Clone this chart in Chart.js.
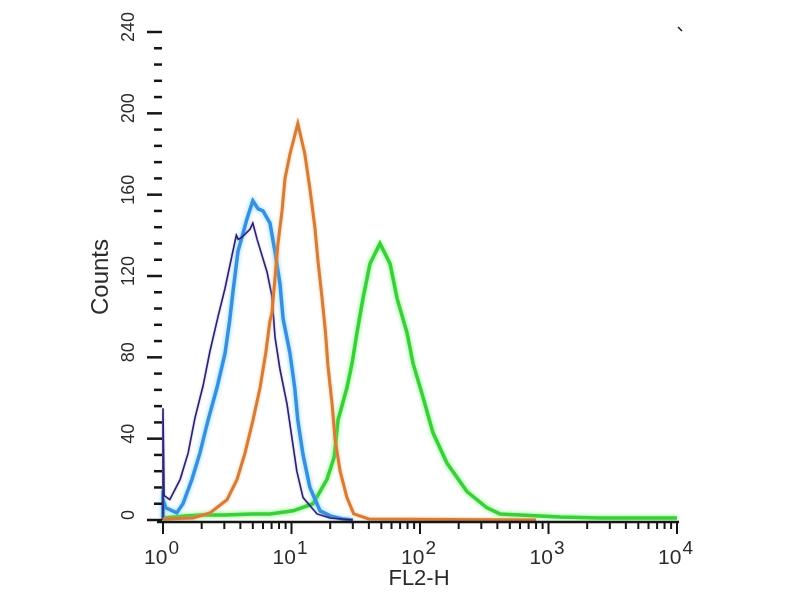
<!DOCTYPE html>
<html lang="en">
<head>
    <meta charset="UTF-8">
    <title>FL2-H histogram</title>
    <script src="https://cdn.jsdelivr.net/npm/chart.js"></script>
    <style>
        body {
            margin: 0;
            background-color: #ffffff;
        }
        #chartBox {
            width: 800px;
            height: 600px;
        }
    </style>
</head>
<body>
    <div id="chartBox">
        <canvas id="histChart" width="800" height="600"></canvas>
    </div>

    <script>
        // Values (x = FL2-H, y = Counts)
        const navyX = [1.0, 1.0, 1.02, 1.13, 1.36, 1.57, 1.77, 2.05, 2.32, 2.68, 3.04, 3.44, 3.72, 3.85, 4.1, 4.75, 5.0, 5.4, 6.45, 7.05, 7.44, 8.14, 9.23, 10.1, 11.0, 12.3, 15.8, 20, 30];
        const navyY = [0, 55, 12, 10, 20, 33, 50, 66, 83, 100, 114, 130, 140, 138, 139, 143, 146, 138, 122, 110, 90, 74, 57, 40, 24, 11, 3, 1, 0];

        const blueX = [1.0, 1.0, 1.05, 1.28, 1.43, 1.68, 1.94, 2.24, 2.63, 3.04, 3.3, 3.5, 3.83, 4.5, 5.0, 5.5, 6.0, 6.8, 7.44, 8.14, 8.6, 9.73, 10.6, 11.2, 12.3, 13.9, 16.7, 20, 25, 30];
        const blueY = [0, 10, 6, 3.5, 8, 20, 33, 49, 65, 82, 98, 112, 132, 148, 157, 153, 152, 146, 132, 116, 99, 82, 65, 49, 32, 16, 4.5, 2, 0.5, 0];

        const orangeX = [1.0, 1.71, 2.32, 3.15, 3.77, 4.35, 5.01, 5.69, 6.3, 6.8, 7.05, 7.44, 7.85, 8.44, 8.9, 9.73, 11.2, 12.7, 13.9, 15.2, 16.1, 17.3, 18.4, 19.2, 20.7, 21.8, 23.9, 27.0, 30.5, 40, 800];
        const orangeY = [0.5, 1, 3.5, 10, 20, 33, 49, 65, 82, 98, 102, 119, 136, 152, 168, 180, 195, 180, 163, 144, 127, 109, 92, 76, 57, 40, 24, 11, 3, 0.5, 0];

        const greenX = [1.0, 1.5, 2.0, 3.0, 5.0, 6.8, 10.3, 14.7, 18.9, 21.5, 23.0, 27.0, 29.6, 32.3, 36.0, 40.8, 48.8, 58.5, 66.3, 79.3, 88.3, 106, 126, 162, 232, 332, 419, 1230, 2500, 10000];
        const greenY = [1, 2, 2.5, 2.5, 3, 3, 4.5, 8, 20, 31, 49, 65, 77, 92, 109, 126, 136, 126, 109, 92, 77, 60, 43, 28, 14, 6, 3, 1.5, 1, 1];

        // tick labels
        const yTickValues = [0, 40, 80, 120, 160, 200, 240];
        const yTickLabels = ['0', '40', '80', '120', '160', '200', '240'];
        const xTickValues = [1, 10, 100, 1000, 10000];
        const xTickExps = ['0', '1', '2', '3', '4'];

        function toPoints(xs, ys) {
            return xs.map((x, i) => ({ x: x, y: ys[i] }));
        }

        // axes, ticks and labels drawn off the chart's own scales
        const axisPlugin = {
            id: 'cytoAxes',
            beforeDatasetDraw(chart, args) {
                const ds = chart.data.datasets[args.index];
                chart.ctx.save();
                chart.ctx.shadowColor = ds.glow;
                chart.ctx.shadowBlur = ds.glowBlur;
            },
            afterDatasetDraw(chart) {
                chart.ctx.restore();
            },
            afterDatasetsDraw(chart) {
                const ctx = chart.ctx;
                const xs = chart.scales.x;
                const ys = chart.scales.y;
                const left = xs.getPixelForValue(1);
                const right = xs.getPixelForValue(10000);
                const base = ys.getPixelForValue(0) + 2;

                ctx.save();
                ctx.strokeStyle = '#151515';
                ctx.fillStyle = '#2b2b2b';

                // x axis line
                ctx.lineWidth = 2.5;
                ctx.beginPath();
                ctx.moveTo(left - 6, base);
                ctx.lineTo(right + 2, base);
                ctx.stroke();

                // x ticks
                ctx.lineWidth = 2;
                for (let d = 0; d < 4; d++) {
                    for (let m = 1; m <= 9; m++) {
                        const px = xs.getPixelForValue(m * Math.pow(10, d));
                        ctx.beginPath();
                        ctx.moveTo(px, base);
                        ctx.lineTo(px, base + (m === 1 ? 12 : 7));
                        ctx.stroke();
                    }
                }
                ctx.beginPath();
                ctx.moveTo(right, base);
                ctx.lineTo(right, base + 12);
                ctx.stroke();

                // y ticks (no axis line, just the dashes)
                ctx.lineWidth = 2.5;
                for (let v = 0; v <= 240; v += 8) {
                    const py = ys.getPixelForValue(v);
                    ctx.beginPath();
                    ctx.moveTo(left - 1, py);
                    ctx.lineTo(left - (v % 40 === 0 ? 16 : 9), py);
                    ctx.stroke();
                }

                // x tick labels: 10 with raised exponent
                xTickValues.forEach((v, i) => {
                    const px = xs.getPixelForValue(v);
                    ctx.font = '21px "Liberation Sans", Arial, sans-serif';
                    const wBase = ctx.measureText('10').width;
                    ctx.font = '19px "Liberation Sans", Arial, sans-serif';
                    const wExp = ctx.measureText(xTickExps[i]).width;
                    const start = px - (wBase + wExp) / 2 - 2;
                    ctx.textAlign = 'left';
                    ctx.textBaseline = 'alphabetic';
                    ctx.font = '21px "Liberation Sans", Arial, sans-serif';
                    ctx.fillText('10', start, 564);
                    ctx.font = '19px "Liberation Sans", Arial, sans-serif';
                    ctx.fillText(xTickExps[i], start + wBase + 1, 554);
                });

                // y tick labels, rotated, sitting a little above their tick
                ctx.font = '18px "Liberation Sans", Arial, sans-serif';
                ctx.textAlign = 'center';
                ctx.textBaseline = 'middle';
                yTickValues.forEach((v, i) => {
                    const py = ys.getPixelForValue(v) - 5;
                    ctx.save();
                    ctx.translate(129, py);
                    ctx.rotate(-Math.PI / 2);
                    ctx.fillText(yTickLabels[i], 0, 0);
                    ctx.restore();
                });

                // axis titles
                ctx.font = '22px "Liberation Sans", Arial, sans-serif';
                ctx.fillText('FL2-H', 419, 579);
                ctx.font = '24px "Liberation Sans", Arial, sans-serif';
                ctx.save();
                ctx.translate(101, 277);
                ctx.rotate(-Math.PI / 2);
                ctx.fillText('Counts', 0, 0);
                ctx.restore();

                // little corner marks left over from the frame
                ctx.lineWidth = 1.5;
                ctx.beginPath();
                ctx.moveTo(678, 27);
                ctx.lineTo(682, 31);
                ctx.stroke();

                ctx.restore();
            }
        };

        const ctx = document.getElementById('histChart').getContext('2d');
        const histChart = new Chart(ctx, {
            type: 'line',
            data: {
                datasets: [
                    {
                        label: 'Isotype',
                        data: toPoints(orangeX, orangeY),
                        borderColor: '#d27d3c',
                        glow: 'rgba(250, 170, 90, 0.8)',
                        glowBlur: 3,
                        borderWidth: 3,
                        clip: 6
                    },
                    {
                        label: 'Blank',
                        data: toPoints(navyX, navyY),
                        borderColor: '#2a2470',
                        glow: 'rgba(120, 100, 180, 0.6)',
                        glowBlur: 2,
                        borderWidth: 1.6,
                        clip: 6
                    },
                    {
                        label: 'Control',
                        data: toPoints(blueX, blueY),
                        borderColor: '#3a8fdc',
                        glow: 'rgba(90, 200, 255, 0.8)',
                        glowBlur: 4,
                        borderWidth: 3.5,
                        clip: 6
                    },
                    {
                        label: 'Antibody',
                        data: toPoints(greenX, greenY),
                        borderColor: '#3ccc3c',
                        glow: 'rgba(90, 255, 90, 0.9)',
                        glowBlur: 4,
                        borderWidth: 3.5,
                        clip: 6
                    }
                ]
            },
            options: {
                responsive: false,
                animation: false,
                layout: {
                    padding: { left: 163, right: 123, top: 32, bottom: 80 }
                },
                elements: {
                    point: { radius: 0 },
                    line: { tension: 0, fill: false }
                },
                scales: {
                    x: { type: 'logarithmic', min: 1, max: 10000, display: false },
                    y: { type: 'linear', min: 0, max: 240, display: false }
                },
                plugins: {
                    legend: { display: false },
                    tooltip: { enabled: false }
                }
            },
            plugins: [axisPlugin]
        });
    </script>
</body>
</html>
